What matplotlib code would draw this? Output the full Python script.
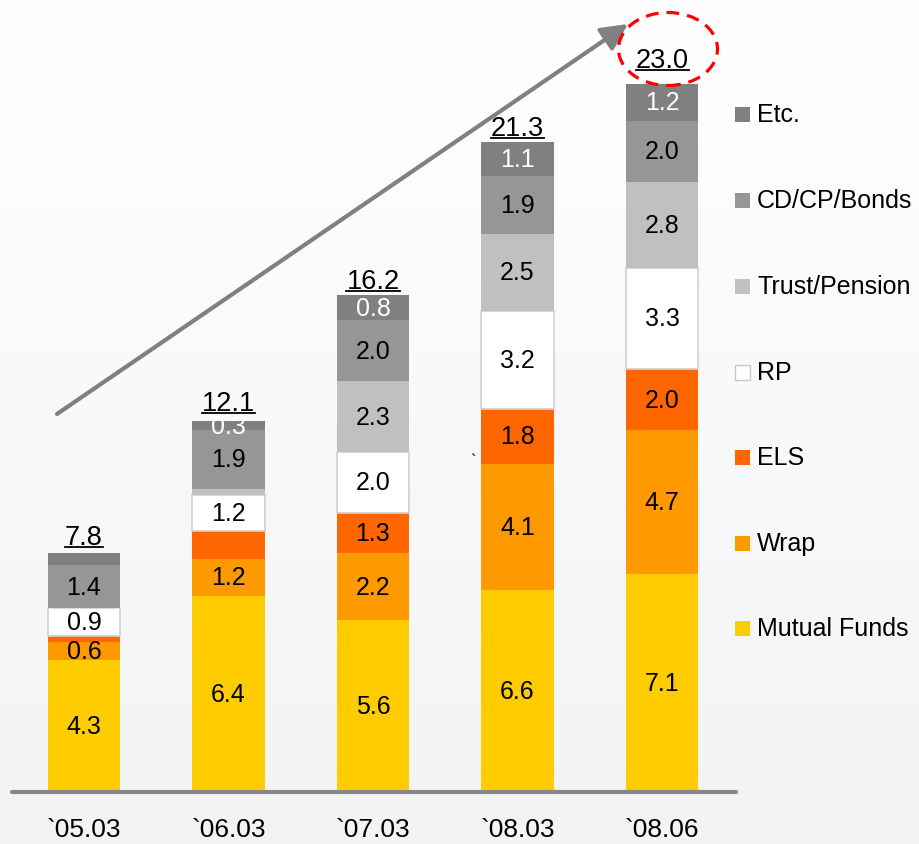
import numpy as np
import matplotlib
matplotlib.use("Agg")
import matplotlib.pyplot as plt
from matplotlib.patches import Ellipse, Rectangle, FancyArrowPatch
from matplotlib.lines import Line2D

plt.rcParams['font.family'] = ['Liberation Sans', 'DejaVu Sans']

# ---- data (trillion KRW) ----
periods = ['`05.03', '`06.03', '`07.03', '`08.03', '`08.06']
series = ['Mutual Funds', 'Wrap', 'ELS', 'RP', 'Trust/Pension', 'CD/CP/Bonds', 'Etc.']
mutual_funds = [4.3, 6.4, 5.6, 6.6, 7.1]
wrap = [0.6, 1.2, 2.2, 4.1, 4.7]
els = [0.2, 0.9, 1.3, 1.8, 2.0]
rp = [0.9, 1.2, 2.0, 3.2, 3.3]
trust_pension = [0.0, 0.2, 2.3, 2.5, 2.8]
cd_cp_bonds = [1.4, 1.9, 2.0, 1.9, 2.0]
etc = [0.4, 0.3, 0.8, 1.1, 1.2]
totals = [7.8, 12.1, 16.2, 21.3, 23.0]

colors = ['#FFCC00', '#FF9900', '#FF6600', '#FFFFFF', '#C0C0C0', '#969696', '#808080']
text_colors = ['black', 'black', 'black', 'black', 'black', 'black', 'white']
# segments left without a value label: (series index, period index)
unlabeled = {(2, 0), (6, 0), (2, 1), (4, 0), (4, 1)}

W, H = 919, 845
fig = plt.figure(figsize=(W / 100, H / 100), dpi=100)

# soft vertical background gradient
bg = fig.add_axes([0, 0, 1, 1], zorder=-10)
top = np.array([1.0, 1.0, 1.0])
bot = np.array([0xF2, 0xF3, 0xF5]) / 255
t = np.linspace(0, 1, 256)[:, None]
grad = top * (1 - t) + bot * t
bg.imshow(grad[:, None, :], aspect='auto', extent=[0, 1, 0, 1])
bg.set_axis_off()


def fx(px):
    return px / W


def fy(py):
    return 1 - py / H


ax = fig.add_axes([fx(12), fy(793), (736 - 12) / W, 793 / H])
ax.patch.set_alpha(0)
x = np.arange(len(periods))
ax.set_xlim(-0.498, 4.512)
ax.set_ylim(0, 793 / 30.65)

stack = [mutual_funds, wrap, els, rp, trust_pension, cd_cp_bonds, etc]
bottom = np.zeros(len(periods))
for si, vals in enumerate(stack):
    vals = np.array(vals)
    edge = '#D0D0D0' if series[si] == 'RP' else 'none'
    ax.bar(x, vals, width=0.5, bottom=bottom, color=colors[si],
           edgecolor=edge, linewidth=1.2 if edge != 'none' else 0, zorder=2)
    for i, v in enumerate(vals):
        if (si, i) in unlabeled or v <= 0:
            continue
        ax.text(x[i], bottom[i] + v / 2, f'{v:.1f}', ha='center', va='center',
                fontsize=18, color=text_colors[si], zorder=4)
    bottom = bottom + vals

# totals above each stack
total_offsets = [2.4, 3.8, 1.0, 1.0, 8.0]
total_texts = []
for i, tot in enumerate(totals):
    tt = ax.annotate(f'{tot:.1f}', xy=(x[i], bottom[i]), xytext=(0, total_offsets[i]),
                     textcoords='offset points', ha='center', va='bottom',
                     fontsize=19.5, color='black', zorder=5)
    total_texts.append(tt)

# baseline
ax.axhline(0, color='#888888', lw=3, solid_capstyle='round', clip_on=False, zorder=3)
for s in ax.spines.values():
    s.set_visible(False)
ax.set_yticks([])
ax.set_xticks(x)
ax.set_xticklabels(periods, fontsize=19)
ax.tick_params(axis='x', length=0, pad=18)

# growth arrow
fig.add_artist(FancyArrowPatch(
    (fx(57), fy(415)), (fx(628), fy(25)), transform=fig.transFigure,
    arrowstyle='-|>,head_length=0.8,head_width=0.4', mutation_scale=20,
    color='#808080', lw=3, shrinkA=0, shrinkB=0))

# dashed highlight around latest total
fig.add_artist(Ellipse((fx(668), fy(50)), 99 / W, 73 / H, transform=fig.transFigure,
                       fill=False, edgecolor='#FF0000', lw=2.3,
                       linestyle=(0, (4, 2.5))))

# stray mark near the 08.03 bar
fig.text(fx(473), fy(462), '`', fontsize=12, ha='center', va='center')

# legend (top-down: Etc. first)
legend_y = [115, 201, 287, 373, 458, 544, 629]
for k, si in enumerate(reversed(range(len(series)))):
    yc = legend_y[k]
    fig.add_artist(Rectangle((fx(735), fy(yc + 7.5)), 15 / W, 15 / H,
                             transform=fig.transFigure, facecolor=colors[si],
                             edgecolor='#C8C8C8' if series[si] == 'RP' else 'none',
                             lw=1))
    fig.text(fx(757), fy(yc), series[si], fontsize=18, ha='left', va='center')

# underline the totals
fig.canvas.draw()
renderer = fig.canvas.get_renderer()
for tt in total_texts:
    bb = tt.get_window_extent(renderer)
    yline = bb.y0 + 3
    fig.add_artist(Line2D([bb.x0 / W, bb.x1 / W], [yline / H, yline / H],
                          transform=fig.transFigure, color='black', lw=1.3))

fig.savefig('out.png', dpi=100)
